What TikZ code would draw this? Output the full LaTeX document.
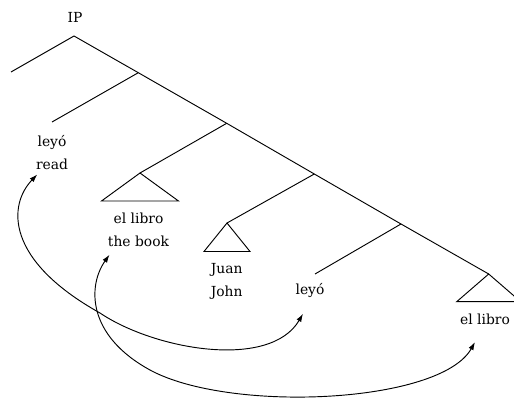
\documentclass[tikz,border=0pt]{standalone}
\usepackage{fontspec}
\setmainfont{DejaVu Serif}
\usetikzlibrary{arrows.meta}

\begin{document}
\begin{tikzpicture}[x=0.75pt,y=-0.75pt,font=\fontsize{10.4}{17.5}\selectfont]
		
		\useasboundingbox (0,0) rectangle (514,403);
		
		% points on the right-branching spine
		\coordinate (ip) at (74,36);
		\coordinate (ibar) at (138.3,72.7);
		\coordinate (vp1) at (226.7,123.3);
		\coordinate (vp2) at (314.3,174);
		\coordinate (vbar) at (401,224);
		\coordinate (obj) at (488.7,274);
		
		% ends of the left branches
		\coordinate (spec) at (11,72);
		\coordinate (infl) at (52,122);
		\coordinate (dp1) at (140,173);
		\coordinate (subj) at (227,223);
		\coordinate (verb) at (315,274);
		
		\node (iplab) at (75,17) {IP};
		
		\draw[line width = 0.7pt] (ip) -- (ibar) -- (vp1) -- (vp2) -- (vbar) -- (obj);
		\draw[line width = 0.7pt] (ip) -- (spec);
		\draw[line width = 0.7pt] (ibar) -- (infl);
		\draw[line width = 0.7pt] (vp1) -- (dp1);
		\draw[line width = 0.7pt] (vp2) -- (subj);
		\draw[line width = 0.7pt] (vbar) -- (verb);
		
		% triangles for the phrases
		\draw[line width = 0.7pt] (dp1) -- ++(-38.5,28) -- ++(77,0) -- cycle;
		\draw[line width = 0.7pt] (subj) -- ++(-23,28.5) -- ++(46,0) -- cycle;
		\draw[line width = 0.7pt] (obj) -- ++(-32,27.7) -- ++(64,0) -- cycle;
		
		\node[align=center] (v1) at (52,152.4) {ley\'o\\read};
		\node[align=center] (dp1lab) at (138.5,230) {el libro\\the book};
		\node[align=center] (subjlab) at (226.7,281.7) {Juan\\John};
		\node (v2) at (310,290) {ley\'o};
		\node (objlab) at (485,319) {el libro};
		
		% movement arrows
		\draw[line width = 0.7pt, {Latex[length=6pt,width=4pt]}-{Latex[length=6pt,width=4pt]}] ([shift={(6,0)}]v1.south west) .. controls (8,205) and (5,260) .. (100,313) .. controls (155,350) and (270,370) .. ([shift={(-7,12)}]v2.south);
		\draw[line width = 0.7pt, {Latex[length=6pt,width=4pt]}-{Latex[length=6pt,width=4pt]}] ([shift={(-29,3)}]dp1lab.south) .. controls (88,285) and (86,335) .. (150,370) .. controls (229,413) and (440,404) .. ([shift={(-10,13)}]objlab.south);
		
	\end{tikzpicture}
\end{document}
